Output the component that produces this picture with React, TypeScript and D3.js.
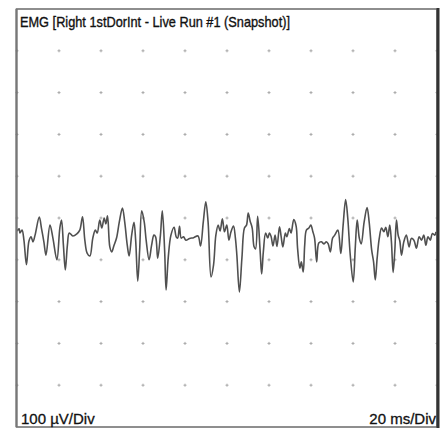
import React from "react";
import * as d3 from "d3";

const title = "EMG [Right 1stDorInt - Live Run #1 (Snapshot)]";
const ampLabel = "100 µV/Div";
const timeLabel = "20 ms/Div";

const divisions = 10;
const timeDomain = [0, 200]; // ms (20 ms/Div)
const ampDomain = [-500, 500]; // µV (100 µV/Div)

// time in ms
const timeMs = [
  0, 1.0, 1.4, 2.4, 3.3, 4.5, 5.7, 6.7, 7.6, 8.6, 10.6, 11.7, 12.8, 13.8, 15.7, 17.1, 19.0, 20.4, 21.2, 22.1,
  23.0, 24.0, 24.9, 26.6, 28.5, 29.9, 31.2, 32.3, 33.4, 34.7, 36.1, 37.3, 38.2, 39.4, 40.4, 41.5, 42.3, 43.1, 44.2, 45.1,
  46.1, 47.4, 48.7, 50.2, 51.3, 52.5, 53.4, 54.6, 55.7, 56.5, 57.5, 58.4, 59.4, 60.6, 61.5, 62.9, 64.1, 65.2, 66.0, 67.0,
  68.3, 69.2, 70.3, 71.0, 72.0, 73.3, 74.8, 75.8, 76.5, 77.4, 78.2, 79.3, 80.4, 82.2, 84.1, 86.2, 87.4, 88.7, 89.9, 91.0,
  92.4, 93.6, 94.7, 95.8, 96.7, 97.8, 98.8, 99.9, 100.9, 101.9, 103.1, 104.0, 104.7, 105.9, 107.1, 108.3, 109.3, 110.1, 111.0, 112.0,
  112.9, 113.6, 114.6, 115.8, 116.5, 117.3, 118.4, 119.4, 120.2, 121.0, 121.9, 122.9, 123.8, 125.0, 125.8, 126.6, 127.8, 128.5, 129.7, 130.5,
  131.8, 132.9, 133.6, 134.7, 135.4, 136.3, 137.0, 137.8, 139.0, 139.9, 140.9, 141.7, 142.7, 143.7, 144.9, 146.2, 147.3, 148.2, 149.2, 150.3,
  151.3, 152.8, 154.2, 155.3, 156.5, 157.5, 158.7, 160.1, 161.1, 162.0, 163.0, 163.9, 165.3, 166.7, 167.7, 168.9, 169.8, 170.6, 171.5, 172.5,
  173.6, 174.7, 175.6, 176.6, 177.5, 178.3, 179.1, 179.9, 180.7, 181.5, 182.3, 183.1, 184.2, 185.4, 186.7, 187.8, 189.0, 190.2, 191.5, 192.6,
  193.7, 194.7, 195.7, 196.8, 197.8, 198.9, 199.5,
];

// amplitude in µV
const ampUv = [
  -31, -26, -36, -29, -53, -112, -55, -45, -57, -41, 2, -26, -57, -89, -17, -48, -100, -24, -5, -65,
  -124, -65, -36, -43, -38, -29, 3, -53, -84, -91, -48, -29, -36, -5, -24, 0, -14, 5, -69, -81,
  -67, -48, -10, 24, -10, -65, -91, -41, -10, -53, -151, -77, 17, -10, -53, -100, -65, -41, -45, -96,
  -41, 17, -77, -172, -96, -41, -22, -45, -48, -20, -48, -45, -53, -49, -47, -43, -67, -10, 39, -10,
  -141, -112, -41, -17, -31, -2, -33, -17, -53, -33, -19, -48, -89, -177, -96, -24, -17, 12, -7, -24,
  -69, -74, 4, -81, -134, -81, -36, -48, -36, -44, -67, -41, -68, -21, -45, -69, -36, -45, -25, -36,
  -4, -19, -72, -120, -105, -129, -65, -29, -24, -17, -33, -48, -105, -60, -57, -62, -57, -62, -81, -48,
  -41, -29, -85, -17, 44, 0, -89, -153, -69, -5, -48, -62, -10, 25, -10, -77, -105, -148, -96, -49,
  -24, -33, -22, -45, -17, -57, -130, -79, -5, -41, -55, -89, -57, -41, -69, -49, -53, -72, -45, -53,
  -41, -65, -45, -53, -37, -41, -33,
];

const W = 447;
const H = 430;
const plotLeft = 17;
const plotRight = 437;
const plotTop = 9;
const plotBottom = 427;

export default function App() {
  const x = d3.scaleLinear().domain(timeDomain).range([plotLeft, plotRight]);
  const y = d3.scaleLinear().domain(ampDomain).range([plotBottom, plotTop]);

  const pts: [number, number][] = timeMs.map((t, i) => [t, ampUv[i]]);
  const pathD = d3
    .line<[number, number]>()
    .x((d) => x(d[0]))
    .y((d) => y(d[1]))
    .curve(d3.curveCatmullRom.alpha(0.5))(pts);

  const xTicks = d3.range(divisions + 1).map(
    (i) => timeDomain[0] + ((timeDomain[1] - timeDomain[0]) * i) / divisions
  );
  const yTicks = d3.range(1, divisions).map(
    (i) => ampDomain[0] + ((ampDomain[1] - ampDomain[0]) * i) / divisions
  );

  const marks: React.ReactNode[] = [];
  xTicks.forEach((tx, i) =>
    yTicks.forEach((ty, j) => {
      const cx = x(tx);
      const cy = y(ty);
      marks.push(
        <g key={`m-${i}-${j}`} stroke="#a8a8a8" strokeWidth={1}>
          <line x1={cx - 1.5} x2={cx + 1.5} y1={cy} y2={cy} />
          <line x1={cx} x2={cx} y1={cy - 1.5} y2={cy + 1.5} />
        </g>
      );
    })
  );

  return (
    <svg
      width={W}
      height={H}
      style={{ position: "absolute", left: 0, top: 0, background: "#fff" }}
      fontFamily="'Liberation Sans', Arial, sans-serif"
    >
      <rect x={0} y={0} width={W} height={H} fill="#fff" />
      {marks}
      <path d={pathD || ""} fill="none" stroke="#505050" strokeWidth={1.6} strokeLinejoin="round" />
      <rect
        x={plotLeft - 0.5}
        y={plotTop}
        width={plotRight - plotLeft + 0.5}
        height={plotBottom - plotTop}
        fill="none"
        stroke="#6a6a6a"
        strokeWidth={1.5}
      />
      <line x1={plotLeft - 0.5} x2={plotLeft - 0.5} y1={plotTop} y2={plotBottom} stroke="#777" strokeWidth={2.2} />
      <line x1={plotRight + 1} x2={plotRight + 1} y1={plotTop - 1} y2={plotBottom + 1} stroke="#333" strokeWidth={3} />
      <text
        x={20}
        y={27}
        fontSize={14.5}
        fill="#111"
        stroke="#111"
        strokeWidth={0.35}
        textLength={270}
        lengthAdjust="spacingAndGlyphs"
      >
        {title}
      </text>
      <text x={21} y={424} fontSize={15} fill="#111" stroke="#111" strokeWidth={0.3}>
        {ampLabel}
      </text>
      <text x={436} y={424} fontSize={15} fill="#111" stroke="#111" strokeWidth={0.3} textAnchor="end">
        {timeLabel}
      </text>
    </svg>
  );
}
